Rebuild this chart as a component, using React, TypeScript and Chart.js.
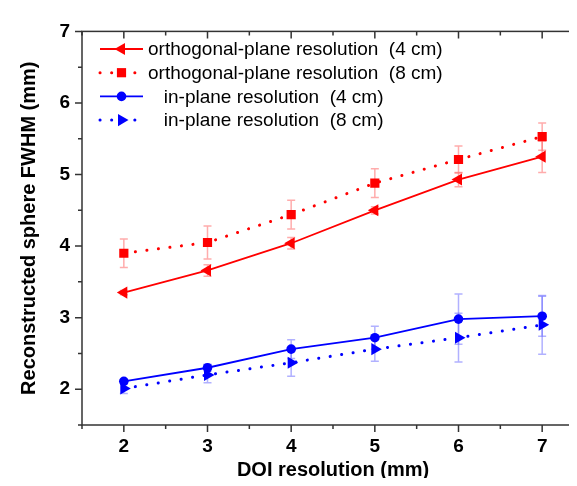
import React, { useEffect, useRef } from 'react';
import { Chart, registerables } from 'chart.js';

Chart.register(...registerables);

const doi = [2, 3, 4, 5, 6, 7];
const ortho4 = [3.35, 3.66, 4.04, 4.5, 4.93, 5.25];
const ortho4Err = [0.03, 0.08, 0.08, 0.05, 0.1, 0.22];
const ortho8 = [3.9, 4.05, 4.44, 4.88, 5.21, 5.53];
const ortho8Err = [0.2, 0.23, 0.2, 0.2, 0.19, 0.19];
const inPlane4 = [2.11, 2.3, 2.56, 2.72, 2.98, 3.02];
const inPlane4Err = [0.03, 0.05, 0.13, 0.16, 0.35, 0.28];
const inPlane8 = [2.01, 2.2, 2.37, 2.56, 2.72, 2.9];
const inPlane8Err = [0.07, 0.11, 0.19, 0.17, 0.34, 0.41];

const xTicks = [2, 3, 4, 5, 6, 7];
const xMinorTicks = [1.5, 2.5, 3.5, 4.5, 5.5, 6.5, 7.5];
const yTicks = [2, 3, 4, 5, 6, 7];
const yMinorTicks = [1.5, 2.5, 3.5, 4.5, 5.5, 6.5];

const seriesLabels = [
  'orthogonal-plane resolution  (4 cm)',
  'orthogonal-plane resolution  (8 cm)',
  '   in-plane resolution  (4 cm)',
  '   in-plane resolution  (8 cm)',
];

const FONT = 'Arial, "Liberation Sans", sans-serif';

function drawMarker(ctx: CanvasRenderingContext2D, style: string, x: number, y: number, r: number, rotDeg: number) {
  ctx.beginPath();
  if (style === 'triangle') {
    let rad = (rotDeg * Math.PI) / 180;
    ctx.moveTo(x + Math.sin(rad) * r, y - Math.cos(rad) * r);
    rad += (2 * Math.PI) / 3;
    ctx.lineTo(x + Math.sin(rad) * r, y - Math.cos(rad) * r);
    rad += (2 * Math.PI) / 3;
    ctx.lineTo(x + Math.sin(rad) * r, y - Math.cos(rad) * r);
    ctx.closePath();
  } else if (style === 'rect') {
    const s = r / Math.SQRT2;
    ctx.rect(x - s, y - s, 2 * s, 2 * s);
  } else {
    ctx.arc(x, y, r, 0, Math.PI * 2);
  }
  ctx.fill();
}

export default function App() {
  const ref = useRef<HTMLCanvasElement | null>(null);

  useEffect(() => {
    if (!ref.current) return;
    const errors = [ortho4Err, ortho8Err, inPlane4Err, inPlane8Err];
    const errColors = ['rgba(255,90,90,0.5)', 'rgba(255,90,90,0.5)', 'rgba(100,100,255,0.5)', 'rgba(100,100,255,0.5)'];

    const errorBarPlugin = {
      id: 'errorBars',
      beforeDatasetsDraw(chart: any) {
        const ctx = chart.ctx;
        const xs = chart.scales.x;
        const ys = chart.scales.y;
        ctx.save();
        chart.data.datasets.forEach((ds: any, di: number) => {
          const err = errors[di];
          ctx.strokeStyle = errColors[di];
          ctx.lineWidth = 1.5;
          ds.data.forEach((p: any, i: number) => {
            const px = xs.getPixelForValue(p.x);
            const yt = ys.getPixelForValue(p.y + err[i]);
            const yb = ys.getPixelForValue(p.y - err[i]);
            ctx.beginPath();
            ctx.moveTo(px, yt);
            ctx.lineTo(px, yb);
            ctx.moveTo(px - 4, yt);
            ctx.lineTo(px + 4, yt);
            ctx.moveTo(px - 4, yb);
            ctx.lineTo(px + 4, yb);
            ctx.stroke();
          });
        });
        ctx.restore();
      },
    };

    const framePlugin = {
      id: 'frame',
      afterDraw(chart: any) {
        const ctx = chart.ctx;
        const { left, right, top, bottom } = chart.chartArea;
        const xs = chart.scales.x;
        const ys = chart.scales.y;
        ctx.save();
        ctx.strokeStyle = '#333';
        ctx.lineWidth = 1.5;
        ctx.strokeRect(left, top, right - left, bottom - top);
        ctx.beginPath();
        const tickX = (vals: number[], len: number) => {
          vals.forEach((v) => {
            const px = xs.getPixelForValue(v);
            ctx.moveTo(px, bottom);
            ctx.lineTo(px, bottom + len);
            ctx.moveTo(px, top);
            ctx.lineTo(px, top + len);
          });
        };
        const tickY = (vals: number[], len: number) => {
          vals.forEach((v) => {
            const py = ys.getPixelForValue(v);
            ctx.moveTo(left, py);
            ctx.lineTo(left - len, py);
            ctx.moveTo(right, py);
            ctx.lineTo(right - len, py);
          });
        };
        tickX(xTicks, 7);
        tickX(xMinorTicks, 4);
        tickY(yTicks, 7);
        tickY(yMinorTicks, 4);
        ctx.stroke();
        ctx.restore();
      },
    };

    const legendPlugin = {
      id: 'customLegend',
      afterDraw(chart: any) {
        const ctx = chart.ctx;
        ctx.save();
        const x0 = 92;
        const x1 = 135;
        const xm = (x0 + x1) / 2;
        chart.data.datasets.forEach((ds: any, i: number) => {
          const y = 41 + i * 23.7;
          ctx.strokeStyle = ds.borderColor;
          ctx.fillStyle = ds.borderColor;
          ctx.lineWidth = ds.borderWidth;
          ctx.lineCap = ds.borderCapStyle || 'butt';
          ctx.setLineDash(ds.borderDash || []);
          ctx.beginPath();
          ctx.moveTo(x0, y);
          ctx.lineTo(x1, y);
          ctx.stroke();
          ctx.setLineDash([]);
          drawMarker(ctx, ds.pointStyle, xm, y, ds.pointRadius, ds.rotation || 0);
          ctx.fillStyle = '#000';
          ctx.font = '19px ' + FONT;
          ctx.textBaseline = 'middle';
          ctx.textAlign = 'left';
          ctx.fillText(ds.label, 140, y + 1);
        });
        ctx.restore();
      },
    };

    const toPts = (ys: number[]) => doi.map((x, i) => ({ x, y: ys[i] }));

    const chart = new Chart(ref.current, {
      type: 'line',
      data: {
        datasets: [
          {
            label: seriesLabels[0],
            data: toPts(ortho4),
            borderColor: '#ff0000',
            backgroundColor: '#ff0000',
            borderWidth: 1.8,
            pointStyle: 'triangle',
            rotation: -90,
            pointRadius: 7,
            pointBorderWidth: 0,
          },
          {
            label: seriesLabels[1],
            data: toPts(ortho8),
            borderColor: '#ff0000',
            backgroundColor: '#ff0000',
            borderWidth: 3,
            borderDash: [0.1, 11.5],
            borderCapStyle: 'round',
            pointStyle: 'rect',
            pointRadius: 6.5,
            pointBorderWidth: 0,
          },
          {
            label: seriesLabels[2],
            data: toPts(inPlane4),
            borderColor: '#0000ff',
            backgroundColor: '#0000ff',
            borderWidth: 1.8,
            pointStyle: 'circle',
            pointRadius: 4.8,
            pointBorderWidth: 0,
          },
          {
            label: seriesLabels[3],
            data: toPts(inPlane8),
            borderColor: '#0000ff',
            backgroundColor: '#0000ff',
            borderWidth: 3,
            borderDash: [0.1, 11.5],
            borderCapStyle: 'round',
            pointStyle: 'triangle',
            rotation: 90,
            pointRadius: 7,
            pointBorderWidth: 0,
          },
        ] as any,
      },
      options: {
        responsive: false,
        animation: false,
        layout: { padding: { left: 0, right: 24, top: 12, bottom: 0 } },
        plugins: {
          legend: { display: false },
          tooltip: { enabled: false },
        },
        scales: {
          x: {
            type: 'linear',
            min: 1.5,
            max: 7.5,
            afterBuildTicks: (s: any) => {
              s.ticks = xTicks.map((v) => ({ value: v }));
            },
            afterFit: (s: any) => {
              s.height = 61;
            },
            grid: { display: false, drawTicks: false },
            border: { display: false },
            ticks: {
              autoSkip: false,
              maxRotation: 0,
              padding: 10,
              color: '#000',
              font: { family: FONT, size: 19, weight: 'bold' },
            },
            title: {
              display: true,
              text: 'DOI resolution (mm)',
              color: '#000',
              font: { family: FONT, size: 20, weight: 'bold' },
              padding: { top: 0, bottom: 4 },
            },
          },
          y: {
            type: 'linear',
            min: 1.5,
            max: 7,
            afterBuildTicks: (s: any) => {
              s.ticks = yTicks.map((v) => ({ value: v }));
            },
            afterFit: (s: any) => {
              s.width = 74;
            },
            grid: { display: false, drawTicks: false },
            border: { display: false },
            ticks: {
              autoSkip: false,
              padding: 12,
              color: '#000',
              font: { family: FONT, size: 19, weight: 'bold' },
            },
            title: {
              display: true,
              text: 'Reconstructed sphere FWHM (mm)',
              color: '#000',
              font: { family: FONT, size: 20, weight: 'bold' },
              padding: { top: 9, bottom: 0 },
            },
          },
        },
      } as any,
      plugins: [errorBarPlugin, framePlugin, legendPlugin],
    });
    return () => chart.destroy();
  }, []);

  return (
    <div style={{ position: 'relative', width: 568, height: 470, overflow: 'hidden' }}>
      <canvas
        ref={ref}
        width={600}
        height={478}
        style={{ position: 'absolute', left: 0, top: 0, width: 600, height: 478 }}
      />
    </div>
  );
}
